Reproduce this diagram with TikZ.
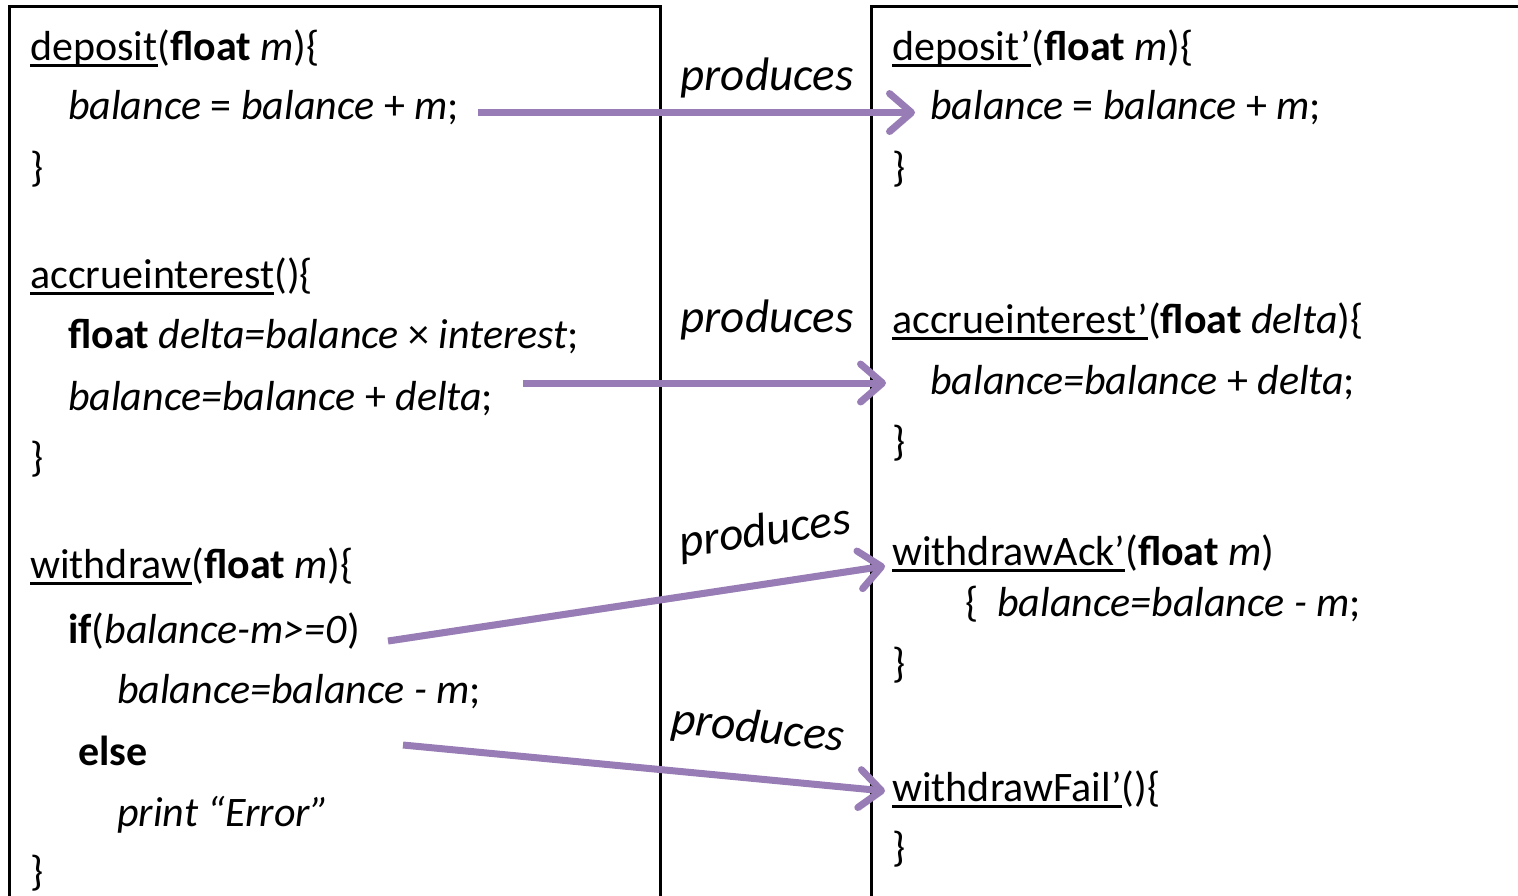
\documentclass[tikz,border=0pt]{standalone}
\usepackage{fontspec}
\setmainfont{Carlito}
\usetikzlibrary{arrows.meta}
\definecolor{flowpurple}{RGB}{152,124,182}
% underlined function name
\newcommand\fname[1]{\setbox0\hbox{#1}\rlap{\rule[-0.17em]{\wd0}{0.065em}}\box0}
\begin{document}
\begin{tikzpicture}[x=1pt,y=-1pt,
  codeline/.style={anchor=base west, inner sep=0pt, font=\fontsize{42}{50}\selectfont},
  prodlabel/.style={inner sep=0pt, font=\fontsize{47}{56}\selectfont\itshape},
  frame/.style={draw=black, line width=3pt},
  flow/.style={draw=flowpurple, line width=7pt,
    -{Straight Barb[round, length=22pt, width=38pt]},
    preaction={draw=black!60, opacity=0.3, transform canvas={shift={(2pt,-3pt)}}}}]
\useasboundingbox (0,0) rectangle (1518,895);
\clip (0,0) rectangle (1518,895);

% the two program panels
\draw[frame] (9.5,6) rectangle (660,940);
\draw[frame] (871.5,6) rectangle (1540,940);

% original program
\node[codeline] (l1)  at (30,60)   {\fname{deposit}(\textbf{float} \textit{m})\{};
\node[codeline] (l2)  at (68,119)  {\textit{balance} = \textit{balance} + \textit{m};};
\node[codeline] (l3)  at (30,181)  {\}};
\node[codeline] (l4)  at (30,288)  {\fname{accrueinterest}()\{};
\node[codeline] (l5)  at (68,348)  {\textbf{float} \textit{delta=balance} × \textit{interest};};
\node[codeline] (l6)  at (68,410)  {\textit{balance=balance} + \textit{delta};};
\node[codeline] (l7)  at (30,471)  {\}};
\node[codeline] (l8)  at (30,578)  {\fname{withdraw}(\textbf{float} \textit{m})\{};
\node[codeline] (l9)  at (68,643)  {\textbf{if}(\textit{balance-m>=0})};
\node[codeline] (l10) at (117,703) {\textit{balance=balance - m};};
\node[codeline] (l11) at (78,765)  {\textbf{else}};
\node[codeline] (l12) at (117,826) {\textit{print “Error”}};
\node[codeline] (l13) at (30,885)  {\}};

% derived program
\node[codeline] (r1)  at (892,60)  {\fname{deposit’}(\textbf{float} \textit{m})\{};
\node[codeline] (r2)  at (930,119) {\textit{balance} = \textit{balance} + \textit{m};};
\node[codeline] (r3)  at (892,181) {\}};
\node[codeline] (r4)  at (892,333) {\fname{accrueinterest’}(\textbf{float} \textit{delta})\{};
\node[codeline] (r5)  at (930,394) {\textit{balance=balance} + \textit{delta};};
\node[codeline] (r6)  at (892,455) {\}};
\node[codeline] (r7)  at (892,565) {\fname{withdrawAck’}(\textbf{float} \textit{m})};
\node[codeline] (r8)  at (965,616) {\{\ \ \textit{balance=balance - m};};
\node[codeline] (r9)  at (892,677) {\}};
\node[codeline] (r10) at (892,801) {\fname{withdrawFail’}()\{};
\node[codeline] (r11) at (892,861) {\}};

% labels on the mappings
\node[prodlabel] (p1) at (767,78)  {produces};
\node[prodlabel] (p2) at (767,320) {produces};
\node[prodlabel, rotate=8]  (p3) at (765,533) {produces};
\node[prodlabel, rotate=-6] (p4) at (758,730) {produces};

% arrow end points beside the code lines
\coordinate (a1s) at (478,112.5);
\coordinate (a1e) at (915,112.5);
\coordinate (a2s) at (523,383);
\coordinate (a2e) at (886,383);
\coordinate (a3s) at (388,641);
\coordinate (a3e) at (885,566);
\coordinate (a4s) at (403,745);
\coordinate (a4e) at (885,791);

\draw[flow] (a1s) -- (a1e);
\draw[flow] (a2s) -- (a2e);
\draw[flow] (a3s) -- (a3e);
\draw[flow] (a4s) -- (a4e);
\end{tikzpicture}
\end{document}
